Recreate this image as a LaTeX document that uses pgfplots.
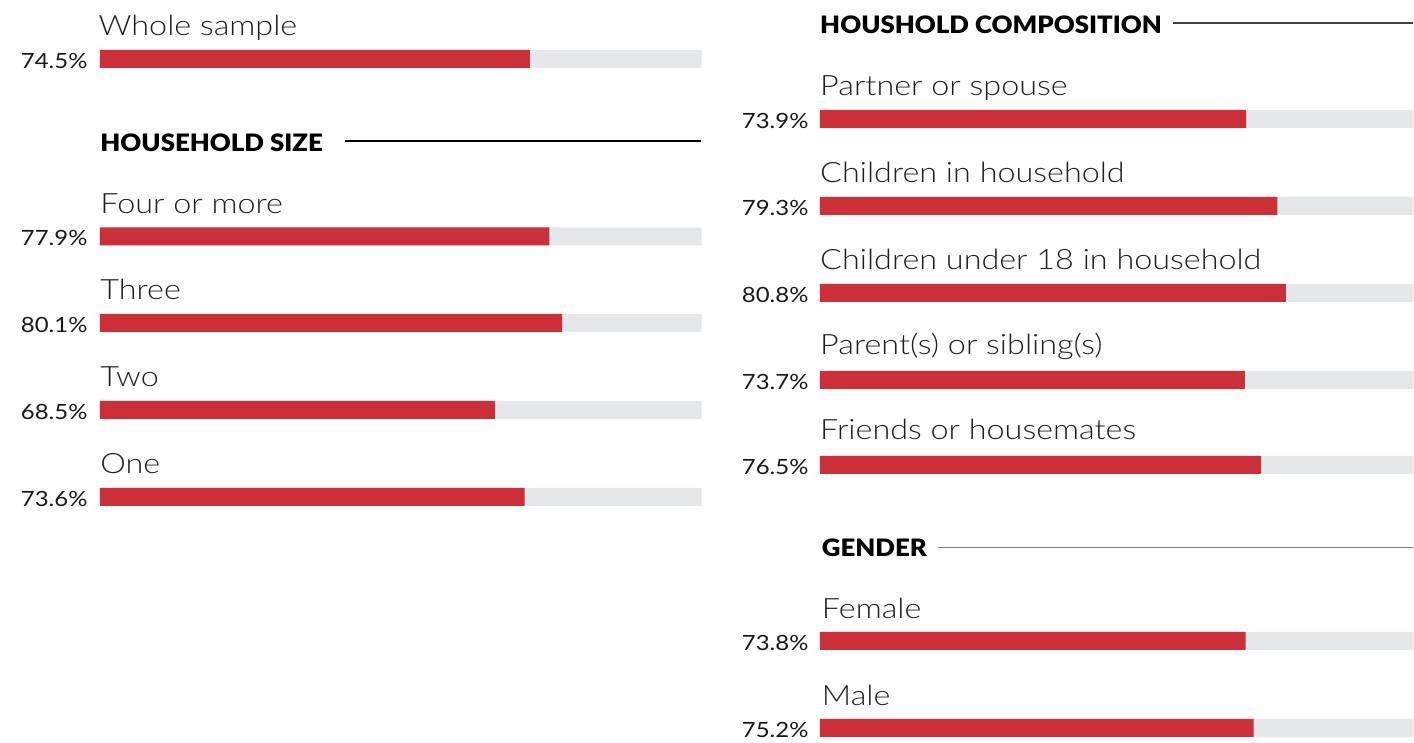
\documentclass[border=0pt]{standalone}
\usepackage{pgfplots}
\pgfplotsset{compat=1.18}
\usepackage{fontspec}
\setmainfont{Lato}
\newfontfamily\lightf{Lato Light}[FakeStretch=1.155]
\newfontfamily\blackf{Lato Black}[FakeStretch=1.075]
\newfontfamily\pctf{Lato}[FakeStretch=1.14]
\definecolor{barred}{HTML}{CC2F37}
\definecolor{track}{HTML}{E6E7E9}
\begin{document}
\begin{tikzpicture}
\pgfplotsset{
 panel/.style={hide axis, x=2.885pt, y=0.5pt, y dir=reverse, ymin=0, ymax=743, clip=false, anchor=north west, scale only axis},
 trk/.style={xbar, bar width=9pt, bar shift=0pt, fill=track, draw=none},
 val/.style={xbar, bar width=9pt, bar shift=0pt, fill=barred, draw=none},
}
\tikzset{
 cat/.style={anchor=base west, font=\lightf\fontsize{14}{16}\selectfont, text=black!88, inner sep=0pt},
 pct/.style={anchor=base east, font=\pctf\fontsize{10.5}{12}\selectfont, text=black!90, inner sep=0pt},
 hdr/.style={anchor=base west, font=\blackf\fontsize{12}{14}\selectfont, inner sep=0pt},
}
\path (0,0) rectangle (707pt,-371.5pt);
% ---------------- left panel ----------------
\begin{axis}[panel, at={(0,0)}, xmin=-17.33, xmax=105.2]
\addplot[trk] coordinates {(104.3,59) (104.3,236.5) (104.3,323) (104.3,410) (104.3,497)};
\addplot[val] coordinates {(74.5,59) (77.9,236.5) (80.1,323) (68.5,410) (73.6,497)};
\node[cat] at (axis cs:-0.3,35.5) {Whole sample};
\node[cat] at (axis cs:0,213.5) {Four or more};
\node[cat] at (axis cs:0,299.5) {Three};
\node[cat] at (axis cs:0,386.5) {Two};
\node[cat] at (axis cs:0,473.5) {One};
\node[pct] at (axis cs:-2.1,69) {74.5\%};
\node[pct] at (axis cs:-2.1,246) {77.9\%};
\node[pct] at (axis cs:-2.1,333) {80.1\%};
\node[pct] at (axis cs:-2.1,420) {68.5\%};
\node[pct] at (axis cs:-2.1,507) {73.6\%};
\node[hdr] at (axis cs:0,151.5) {HOUSEHOLD SIZE};
\draw[black, line width=0.6pt] (axis cs:42.46,141) -- (axis cs:104.16,141);
\end{axis}
% ---------------- right panel ----------------
\begin{axis}[panel, at={(353.5pt,0)}, xmin=-19.58, xmax=102.9]
\addplot[trk] coordinates {(102.9,119) (102.9,206) (102.9,293) (102.9,380) (102.9,465) (102.9,641) (102.9,728)};
\addplot[val] coordinates {(73.9,119) (79.3,206) (80.8,293) (73.7,380) (76.5,465) (73.8,641) (75.2,728)};
\node[cat] at (axis cs:0,95.5) {Partner or spouse};
\node[cat] at (axis cs:0,182.5) {Children in household};
\node[cat] at (axis cs:0,269.5) {Children under 18 in household};
\node[cat] at (axis cs:0,354.5) {Parent(s) or sibling(s)};
\node[cat] at (axis cs:0,439.5) {Friends or housemates};
\node[cat] at (axis cs:0.3,618.5) {Female};
\node[cat] at (axis cs:0.3,705.5) {Male};
\node[pct] at (axis cs:-1.9,129) {73.9\%};
\node[pct] at (axis cs:-1.9,216) {79.3\%};
\node[pct] at (axis cs:-1.9,303) {80.8\%};
\node[pct] at (axis cs:-1.9,390) {73.7\%};
\node[pct] at (axis cs:-1.9,475) {76.5\%};
\node[pct] at (axis cs:-1.9,651) {73.8\%};
\node[pct] at (axis cs:-1.9,738) {75.2\%};
\node[hdr] at (axis cs:0,33.5) {HOUSHOLD COMPOSITION};
\draw[black!75, line width=0.6pt] (axis cs:61.2,23) -- (axis cs:102.9,23);
\node[hdr] at (axis cs:0.3,556.5) {GENDER};
\draw[black!50, line width=0.6pt] (axis cs:20.45,548) -- (axis cs:102.9,548);
\end{axis}
\end{tikzpicture}
\end{document}
